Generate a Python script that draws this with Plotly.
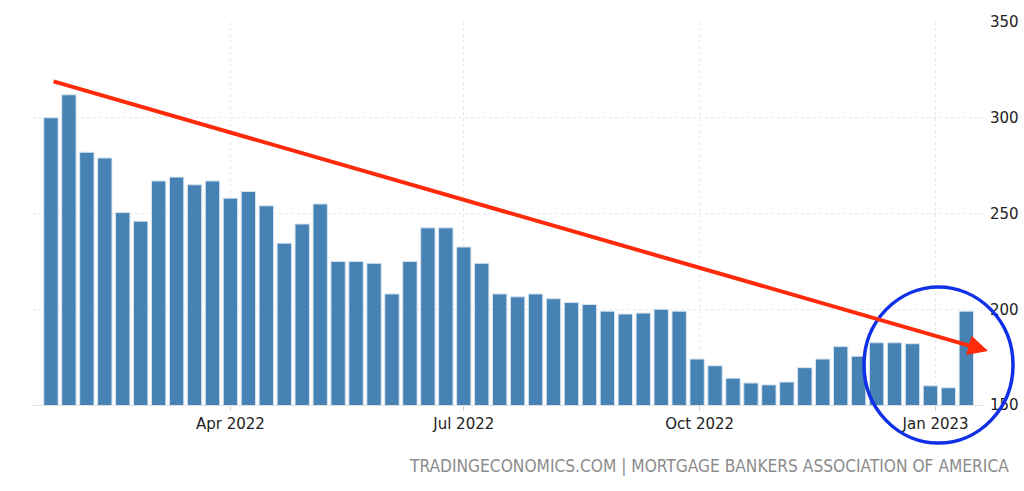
import pandas as pd
import plotly.graph_objs as go

# Weekly MBA purchase index
week_start = "2022-01-21"
purchase_index = [300, 312, 282, 279, 250.5, 246, 267, 269, 265, 267,
                  258, 261.5, 254, 234.5, 244.5, 255, 225, 225, 224, 208,
                  225, 242.5, 242.5, 232.5, 224, 208, 206.5, 208, 205.5, 203.5,
                  202.5, 199, 197.5, 198, 200, 199, 174, 170.5, 164, 161.5,
                  160.5, 162, 169.5, 174, 180.5, 175.5, 182.5, 182.5, 182, 160,
                  159, 199]
weeks = pd.date_range(week_start, periods=len(purchase_index), freq="7D")

tick_dates = ["2022-04-01", "2022-07-01", "2022-10-01", "2023-01-01"]
tick_labels = ["Apr 2022", "Jul 2022", "Oct 2022", "Jan 2023"]
y_ticks = [150, 200, 250, 300, 350]
source_text = "TRADINGECONOMICS.COM | MORTGAGE BANKERS ASSOCIATION OF AMERICA"

fig = go.Figure()

fig.add_trace(
    go.Bar(
        x=weeks,
        y=purchase_index,
        marker=dict(color="#4682b4", line=dict(color="#d6e4f0", width=1)),
        width=7 * 24 * 3600 * 1000 * 0.8,
        hoverinfo="x+y",
    )
)

fig.update_layout(
    width=1024,
    height=491,
    margin=dict(l=33, r=41, t=22, b=86),
    paper_bgcolor="white",
    plot_bgcolor="white",
    showlegend=False,
    font=dict(family="DejaVu Sans", size=14, color="#222222"),
    xaxis=dict(
        type="date",
        range=["2022-01-14", "2023-01-19 12:00"],
        tickvals=tick_dates,
        ticktext=tick_labels,
        showgrid=True,
        gridcolor="#e8e8e8",
        griddash="dot",
        zeroline=False,
        showline=True,
        linecolor="#e0e0e0",
        ticks="outside",
        ticklen=5,
        tickcolor="#d0d0d0",
        tickfont=dict(size=15, color="#222222"),
        automargin=False,
    ),
    yaxis=dict(
        range=[150, 350],
        side="right",
        tickvals=y_ticks,
        showgrid=True,
        gridcolor="#e8e8e8",
        griddash="dot",
        zeroline=False,
        ticks="",
        tickfont=dict(size=15, color="#222222"),
        ticklabelstandoff=6,
        automargin=False,
    ),
)

# red trend arrow
fig.add_annotation(
    xref="x domain", yref="y domain", axref="x domain", ayref="y domain",
    x=1.0053, y=0.141, ax=0.02, ay=0.846,
    text="", showarrow=True,
    arrowhead=2, arrowsize=1, arrowwidth=4, arrowcolor="#ff2a0a",
)

# blue circle round the last weeks
fig.add_shape(
    type="circle", xref="paper", yref="paper",
    x0=0.8747, x1=1.0316, y0=-0.0992, y1=0.308,
    line=dict(color="#1030e8", width=3.5),
)

# source line
fig.add_annotation(
    xref="paper", yref="paper",
    x=1.0298, y=-0.159, xanchor="right", yanchor="middle",
    text=source_text, showarrow=False,
    font=dict(family="DejaVu Sans Condensed", size=17.2, color="#8c8c8c"),
)

# drop the page's default body margin so the figure sits at the top-left corner
fig.write_html("out.html", config={"displayModeBar": False},
               post_script="document.body.style.margin='0px';")
